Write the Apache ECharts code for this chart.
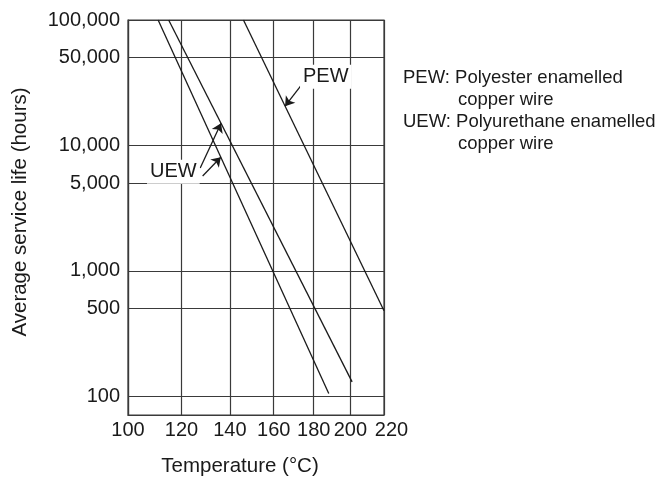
<!DOCTYPE html>
<html>
<head>
<meta charset="utf-8">
<script src="https://cdn.jsdelivr.net/npm/echarts@6/dist/echarts.min.js"></script>
<style>
  html, body { margin: 0; padding: 0; background: #fff; }
  #chart { width: 658px; height: 480px; }
</style>
</head>
<body>
<div id="chart"></div>
<script>
// Axis ticks
const tempTicks = [100, 120, 140, 160, 180, 200, 220];
const lifeTicks = [100, 500, 1000, 5000, 10000, 50000, 100000];

// Life lines, endpoints as (temperature °C, hours)
const uewLowTemp = [111, 188];
const uewLowLife = [100000, 105];
const uewHighTemp = [115, 201];
const uewHighLife = [100000, 130];
const pewTemp = [146, 220];
const pewLife = [100000, 480];

// Arrhenius temperature scale (reciprocal absolute temperature) and log life scale
const toX = t => -1000 / (t + 273.15);
const fromX = x => -1000 / x - 273.15;
const toY = h => Math.log10(h);
const fmtThousands = n => String(n).replace(/\B(?=(\d{3})+(?!\d))/g, ',');

const pts = (temps, lives) => temps.map((t, i) => [toX(t), toY(lives[i])]);

// Life on a straight Arrhenius line at a given temperature
function lifeAt(temps, lives, t) {
  const x0 = toX(temps[0]), x1 = toX(temps[1]);
  const f = (toX(t) - x0) / (x1 - x0);
  return Math.pow(10, toY(lives[0]) + f * (toY(lives[1]) - toY(lives[0])));
}

const FONT = '"Liberation Sans", Arial, Helvetica, sans-serif';
const INK = '#1a1a1a';
const GRID = '#3a3a3a';
const lastTemp = tempTicks[tempTicks.length - 1];

const arrow = (tailT, tailH, tipT, temps, lives) => [
  { coord: [toX(tailT), toY(tailH)], symbol: 'none' },
  { coord: [toX(tipT), toY(lifeAt(temps, lives, tipT))], symbol: 'arrow' }
];

const tag = (text, t, h) => ({
  coord: [toX(t), toY(h)],
  symbol: 'rect',
  symbolSize: 1,
  itemStyle: { color: 'rgba(0,0,0,0)' },
  label: {
    show: true, position: 'inside', formatter: text,
    fontFamily: FONT, fontSize: 20, color: INK,
    backgroundColor: '#fff', padding: [3, 3, 1, 3]
  }
});

const lineSeries = (name, temps, lives, extra) => Object.assign({
  name, type: 'line', data: pts(temps, lives),
  showSymbol: false, symbol: 'none',
  lineStyle: { color: INK, width: 1.3 },
  silent: true, z: 3
}, extra || {});

const arrowLines = data => ({
  silent: true, animation: false,
  symbolSize: 9,
  lineStyle: { color: INK, width: 1.3, type: 'solid' },
  label: { show: false },
  data
});

const chart = echarts.init(document.getElementById('chart'), null, { renderer: 'canvas' });

chart.setOption({
  animation: false,
  backgroundColor: '#fff',
  grid: { left: 128, right: 274, top: 20, bottom: 65, show: true, borderColor: GRID, borderWidth: 1.2 },
  xAxis: {
    type: 'value',
    min: toX(100), max: toX(220),
    axisLine: { show: true, onZero: false, lineStyle: { color: GRID, width: 1.2 } },
    axisTick: { show: false, customValues: tempTicks.map(toX) },
    axisLabel: {
      customValues: tempTicks.map(toX),
      formatter: v => {
        const t = Math.round(fromX(v));
        return t === lastTemp ? '{last|' + t + '}' : String(t);
      },
      rich: { last: { fontFamily: FONT, fontSize: 20, color: INK, padding: [0, 0, 0, 15] } },
      fontFamily: FONT, fontSize: 20, color: INK, margin: 5
    },
    splitLine: { show: true, lineStyle: { color: GRID, width: 1.2 } }
  },
  yAxis: {
    type: 'value',
    min: 1.85, max: 5,
    axisLine: { show: true, onZero: false, lineStyle: { color: GRID, width: 1.2 } },
    axisTick: { show: false, customValues: lifeTicks.map(toY) },
    axisLabel: {
      customValues: lifeTicks.map(toY),
      formatter: v => fmtThousands(Math.round(Math.pow(10, v))),
      fontFamily: FONT, fontSize: 20, color: INK, margin: 8
    },
    splitLine: { show: true, lineStyle: { color: GRID, width: 1.2 } }
  },
  series: [
    lineSeries('UEW-1', uewLowTemp, uewLowLife, {
      markLine: arrowLines([arrow(128.5, 5700, 136.1, uewLowTemp, uewLowLife)]),
      markPoint: { silent: true, animation: false, data: [tag('UEW', 116.8, 6170)] }
    }),
    lineSeries('UEW-2', uewHighTemp, uewHighLife, {
      markLine: arrowLines([arrow(127.5, 6600, 136.2, uewHighTemp, uewHighLife)])
    }),
    lineSeries('PEW', pewTemp, pewLife, {
      markLine: arrowLines([arrow(173.3, 29800, 165.5, pewTemp, pewLife)]),
      markPoint: { silent: true, animation: false, data: [tag('PEW', 186.4, 35300)] }
    })
  ],
  graphic: [
    {
      type: 'text', x: 20, y: 212, rotation: Math.PI / 2,
      style: { text: 'Average service life (hours)', font: '20.5px ' + FONT, fill: INK, align: 'center', verticalAlign: 'middle' }
    },
    {
      type: 'text', x: 240, y: 466,
      style: { text: 'Temperature (°C)', font: '20.5px ' + FONT, fill: INK, align: 'center', verticalAlign: 'middle' }
    },
    { type: 'text', x: 403, y: 78, style: { text: 'PEW: Polyester enamelled', font: '18.5px ' + FONT, fill: INK, verticalAlign: 'middle' } },
    { type: 'text', x: 458, y: 100, style: { text: 'copper wire', font: '18.5px ' + FONT, fill: INK, verticalAlign: 'middle' } },
    { type: 'text', x: 403, y: 122, style: { text: 'UEW: Polyurethane enamelled', font: '18.5px ' + FONT, fill: INK, verticalAlign: 'middle' } },
    { type: 'text', x: 458, y: 144, style: { text: 'copper wire', font: '18.5px ' + FONT, fill: INK, verticalAlign: 'middle' } }
  ]
});
</script>
</body>
</html>
